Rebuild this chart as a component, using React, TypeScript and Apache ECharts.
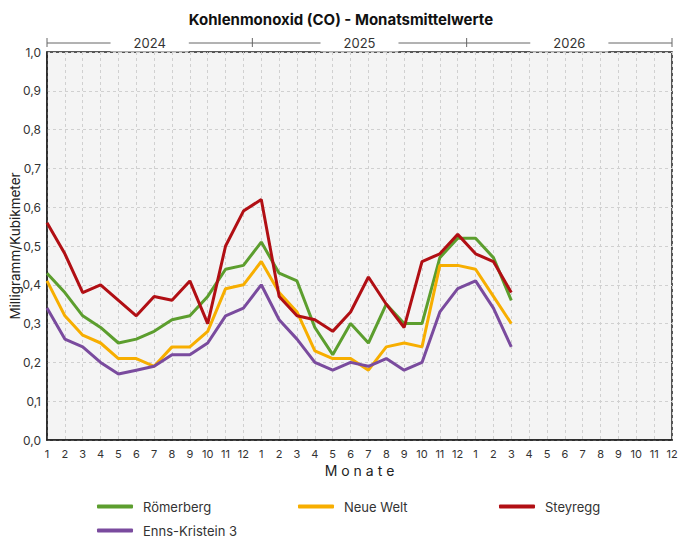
import React, { useEffect, useRef } from "react";
import * as echarts from "echarts";

const years = ["2024", "2025", "2026"];
const months = ["1", "2", "3", "4", "5", "6", "7", "8", "9", "10", "11", "12"];
const yTickLabels = ["0,0", "0,1", "0,2", "0,3", "0,4", "0,5", "0,6", "0,7", "0,8", "0,9", "1,0"];

const roemerberg = [0.43, 0.38, 0.32, 0.29, 0.25, 0.26, 0.28, 0.31, 0.32, 0.37, 0.44, 0.45,
  0.51, 0.43, 0.41, 0.29, 0.22, 0.30, 0.25, 0.35, 0.30, 0.30, 0.47, 0.52,
  0.52, 0.47, 0.36];
const neueWelt = [0.41, 0.32, 0.27, 0.25, 0.21, 0.21, 0.19, 0.24, 0.24, 0.28, 0.39, 0.40,
  0.46, 0.38, 0.33, 0.23, 0.21, 0.21, 0.18, 0.24, 0.25, 0.24, 0.45, 0.45,
  0.44, 0.37, 0.30];
const steyregg = [0.56, 0.48, 0.38, 0.40, 0.36, 0.32, 0.37, 0.36, 0.41, 0.30, 0.50, 0.59,
  0.62, 0.37, 0.32, 0.31, 0.28, 0.33, 0.42, 0.35, 0.29, 0.46, 0.48, 0.53,
  0.48, 0.46, 0.38];
const ennsKristein = [0.34, 0.26, 0.24, 0.20, 0.17, 0.18, 0.19, 0.22, 0.22, 0.25, 0.32, 0.34,
  0.40, 0.31, 0.26, 0.20, 0.18, 0.20, 0.19, 0.21, 0.18, 0.20, 0.33, 0.39,
  0.41, 0.34, 0.24];

const seriesNames = ["Römerberg", "Neue Welt", "Steyregg", "Enns-Kristein 3"];
const seriesColors = ["#5c9e2e", "#f7ae00", "#b10f14", "#7a4b9e"];
const seriesData = [roemerberg, neueWelt, steyregg, ennsKristein];

const categories = years.flatMap((y) => months.map((m) => `${y}-${m}`));

const FONT = "Inter, 'Noto Sans', sans-serif";

export default function App() {
  const ref = useRef<HTMLDivElement>(null);

  useEffect(() => {
    if (!ref.current) return;
    const chart = echarts.init(ref.current, undefined, { renderer: "svg" });
    const legendText = { color: "#333", fontSize: 13, fontFamily: FONT, padding: [0, 0, 0, 5] };
    const legendBase = {
      orient: "vertical",
      top: 500,
      height: 39,
      padding: 0,
      itemWidth: 36,
      itemHeight: 4,
      itemGap: 11,
      icon: "roundRect",
      textStyle: legendText,
    };
    chart.setOption({
      animation: false,
      backgroundColor: "#ffffff",
      textStyle: { fontFamily: FONT },
      title: {
        text: "Kohlenmonoxid (CO) - Monatsmittelwerte",
        left: "center",
        top: 7,
        textStyle: { fontSize: 15, fontWeight: "bold", color: "#111", fontFamily: FONT },
      },
      legend: [
        { ...legendBase, left: 97, data: [seriesNames[0], seriesNames[3]] },
        { ...legendBase, left: 298, data: [seriesNames[1]] },
        { ...legendBase, left: 499, data: [seriesNames[2]] },
      ],
      grid: {
        left: 47,
        right: 10,
        top: 52,
        bottom: 99,
        containLabel: false,
        outerBoundsMode: "none",
        show: true,
        backgroundColor: "#f4f4f4",
        borderColor: "#222",
        borderWidth: 1.5,
      },
      xAxis: {
        type: "category",
        data: categories,
        boundaryGap: false,
        name: "M o n a t e",
        nameLocation: "middle",
        nameGap: 22,
        nameTextStyle: { fontSize: 14, color: "#222", fontFamily: FONT },
        axisLine: { lineStyle: { color: "#222", width: 1.5 } },
        axisTick: { show: false },
        axisLabel: {
          interval: 0,
          margin: 8,
          fontSize: 11,
          color: "#333",
          formatter: (v: string) => v.split("-")[1],
        },
        splitLine: { show: true, lineStyle: { color: "#d0d0d0", type: [3, 3], width: 1 } },
      },
      yAxis: {
        type: "value",
        min: 0,
        max: 1,
        interval: 0.1,
        name: "Milligramm/Kubikmeter",
        nameLocation: "middle",
        nameGap: 25,
        nameMoveOverlap: false,
        nameTextStyle: { fontSize: 13.5, color: "#222", fontFamily: FONT },
        axisLine: { show: true, lineStyle: { color: "#222", width: 1.5 } },
        axisTick: { show: false },
        axisLabel: {
          margin: 6,
          fontSize: 12,
          color: "#333",
          formatter: (v: number) => yTickLabels[Math.round(v * 10)],
        },
        splitLine: { show: true, lineStyle: { color: "#d0d0d0", type: [3, 3], width: 1 } },
      },
      series: seriesNames.map((name, i) => ({
        name,
        type: "line",
        data: seriesData[i],
        symbol: "none",
        color: seriesColors[i],
        lineStyle: { width: 3, color: seriesColors[i] },
      })),
    });

    // Year band above the plot, positioned via axis scales
    const x0 = chart.convertToPixel({ xAxisIndex: 0 }, categories[0]) as number;
    const x1 = chart.convertToPixel({ xAxisIndex: 0 }, categories[1]) as number;
    const step = x1 - x0;
    const last = categories.length - 1;
    const px = (i: number) => x0 + step * i;
    const yTop = chart.convertToPixel({ yAxisIndex: 0 }, 1) as number;
    const yBand = yTop - 9;
    const bounds = years.map((_, k) => Math.max(0, k * 12 - 0.5)).concat([last]);
    const graphic: any[] = [
      {
        type: "line",
        shape: { x1: px(0), y1: yBand, x2: px(last), y2: yBand },
        style: { stroke: "#666", lineWidth: 1 },
        silent: true,
      },
    ];
    bounds.forEach((b) => {
      graphic.push({
        type: "line",
        shape: { x1: px(b), y1: yBand - 5, x2: px(b), y2: yBand + 4 },
        style: { stroke: "#666", lineWidth: 1 },
        silent: true,
      });
    });
    years.forEach((y, k) => {
      const c = (bounds[k] + bounds[k + 1]) / 2;
      graphic.push({
        type: "text",
        x: px(c),
        y: yBand,
        z: 10,
        style: {
          text: y,
          align: "center",
          verticalAlign: "middle",
          fontSize: 13,
          fontFamily: FONT,
          fill: "#333",
          backgroundColor: "#ffffff",
          padding: [2, 23],
        },
        silent: true,
      });
    });
    chart.setOption({ graphic });

    return () => chart.dispose();
  }, []);

  return (
    <div
      ref={ref}
      style={{ position: "fixed", left: 0, top: 0, width: 682, height: 539 }}
    />
  );
}
